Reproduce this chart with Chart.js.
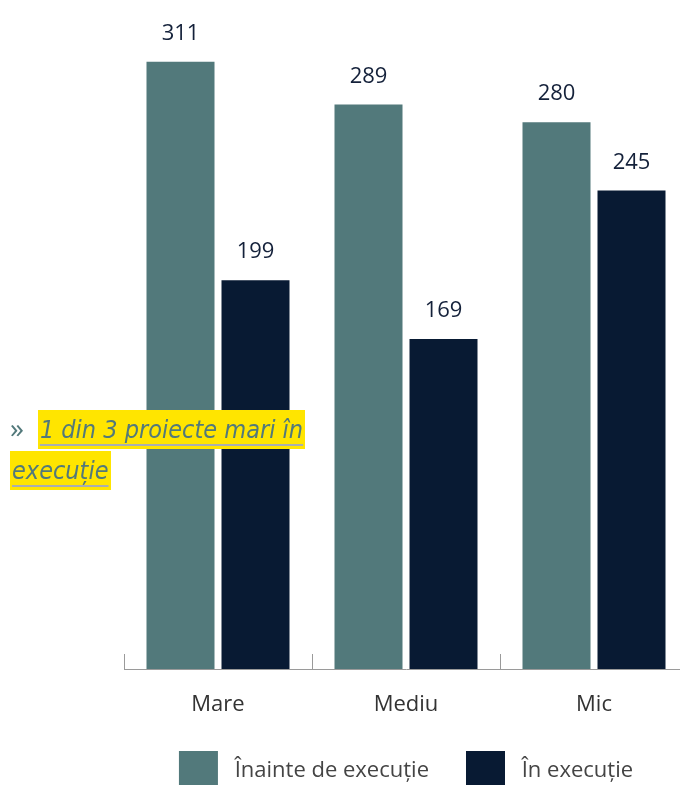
<!DOCTYPE html>
<html>
<head>
<meta charset="utf-8">
<script src="https://cdn.jsdelivr.net/npm/chart.js@4/dist/chart.umd.min.js"></script>
<style>
  html, body { margin: 0; padding: 0; background: #fff; overflow: hidden; width: 680px; height: 785px; }
  #wrap { position: absolute; left: 0; top: 0; width: 700px; height: 800px; }
  #note {
    position: absolute; left: 10px; top: 407px; width: 300px;
    font-family: "Liberation Sans Narrow", "DejaVu Sans Condensed", sans-serif;
    font-style: italic; font-size: 25px; line-height: 41px; color: #52797B;
    z-index: 5;
  }
  #note .raq { font-style: normal; font-family: "Open Sans", sans-serif; font-size: 28px; margin-right: 14px; }
  #note .hl {
    background: #FFE500; padding: 5px 2px 5px 2px;
    -webkit-box-decoration-break: clone; box-decoration-break: clone;
    text-decoration: underline; text-decoration-color: #a9aeb0; text-decoration-thickness: 2px; text-underline-offset: 6px;
  }
</style>
</head>
<body>
<div id="wrap"><canvas id="c"></canvas></div>
<div id="note"><span class="raq">»</span><span class="hl">1 din 3 proiecte mari în execuție</span></div>
<script>
const categories = ["Mare", "Mediu", "Mic"];
const seriesNames = ["Înainte de execuție", "În execuție"];
const inainteDeExecutie = [311, 289, 280];
const inExecutie = [199, 169, 245];
const yMax = 340;

const COLORS = ["#52797B", "#081A33"];
const FONT = '"Open Sans", "Noto Sans", sans-serif';

const valueLabels = {
  id: 'valueLabels',
  afterDatasetsDraw(chart) {
    const ctx = chart.ctx;
    ctx.save();
    ctx.font = '22px ' + FONT;
    ctx.fillStyle = '#14213a';
    ctx.textAlign = 'center';
    ctx.textBaseline = 'alphabetic';
    chart.data.datasets.forEach((ds, di) => {
      const meta = chart.getDatasetMeta(di);
      meta.data.forEach((el, i) => {
        ctx.fillText(String(ds.data[i]), el.x, el.y - 22);
      });
    });
    ctx.restore();
  }
};

const upTicks = {
  id: 'upTicks',
  afterDatasetsDraw(chart) {
    const xs = chart.scales.x;
    const ctx = chart.ctx;
    const n = chart.data.labels.length;
    const step = xs.getPixelForValue(1) - xs.getPixelForValue(0);
    const bottom = chart.chartArea.bottom;
    ctx.save();
    ctx.strokeStyle = '#9a9a9a';
    ctx.lineWidth = 1;
    for (let i = 0; i <= n; i++) {
      const x = Math.round(xs.getPixelForValue(0) - step / 2 + i * step) + 0.5;
      ctx.beginPath();
      ctx.moveTo(x, bottom);
      ctx.lineTo(x, bottom - 15);
      ctx.stroke();
    }
    ctx.restore();
  }
};

new Chart(document.getElementById('c'), {
  type: 'bar',
  data: {
    labels: categories,
    datasets: [
      { label: seriesNames[0], data: inainteDeExecutie, backgroundColor: COLORS[0] },
      { label: seriesNames[1], data: inExecutie, backgroundColor: COLORS[1] }
    ]
  },
  options: {
    responsive: true,
    maintainAspectRatio: false,
    animation: false,
    categoryPercentage: 150 / 188,
    barPercentage: 68 / 75,
    layout: { padding: { left: 124, right: 12, top: 5, bottom: 0 } },
    scales: {
      x: {
        grid: { display: false, drawTicks: false },
        border: { display: true, color: '#9a9a9a', width: 1 },
        ticks: { color: '#333', font: { family: FONT, size: 22 }, padding: 23 },
        afterFit(scale) { scale.height = 45; }
      },
      y: { display: false, min: 0, max: yMax }
    },
    plugins: {
      tooltip: { enabled: false },
      legend: {
        position: 'bottom',
        labels: {
          boxWidth: 39, boxHeight: 39, padding: 37,
          color: '#444', font: { family: FONT, size: 22 },
          generateLabels(chart) {
            return chart.data.datasets.map((ds, i) => ({
              text: ' ' + ds.label,
              fillStyle: ds.backgroundColor,
              strokeStyle: ds.backgroundColor,
              lineWidth: 0,
              fontColor: '#444',
              datasetIndex: i,
              hidden: false
            }));
          }
        }
      }
    }
  },
  plugins: [valueLabels, upTicks]
});
</script>
</body>
</html>
